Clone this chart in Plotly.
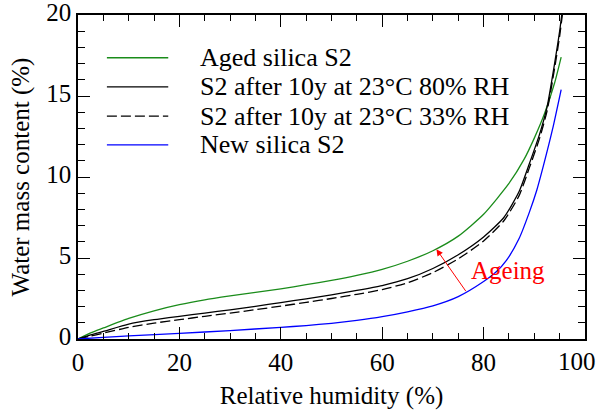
import plotly.graph_objects as go

# ---- data ----
names = ["Aged silica S2", "S2 after 10y at 23°C 80% RH", "S2 after 10y at 23°C 33% RH", "New silica S2"]

aged_x = [0, 2.5, 5, 10, 15, 20, 25, 30, 35, 40, 45, 50, 55, 60, 65, 70, 75, 80, 85, 88, 90, 92, 94, 95.3]
aged_y = [0, 0.38, 0.68, 1.27, 1.74, 2.12, 2.42, 2.66, 2.88, 3.1, 3.35, 3.62, 3.93, 4.3, 4.8, 5.45, 6.35, 7.7, 9.6, 11.1, 12.4, 13.9, 15.8, 17.4]

rh80_x = [0, 2.5, 5, 10, 15, 20, 25, 30, 35, 40, 45, 50, 55, 60, 65, 70, 75, 80, 84, 87, 89, 91, 92.5, 94, 95, 96]
rh80_y = [0, 0.25, 0.47, 0.92, 1.19, 1.4, 1.6, 1.8, 2.02, 2.25, 2.48, 2.73, 3.0, 3.3, 3.72, 4.35, 5.2, 6.3, 7.5, 9.1, 10.8, 12.6, 14.3, 17.0, 19.0, 21.5]

rh33_x = [0, 2.5, 5, 10, 15, 20, 25, 30, 35, 40, 45, 50, 55, 60, 65, 70, 75, 80, 84, 87, 89, 91, 92.5, 94, 95, 96]
rh33_y = [0, 0.18, 0.36, 0.72, 0.98, 1.19, 1.4, 1.6, 1.81, 2.03, 2.26, 2.5, 2.76, 3.05, 3.47, 4.1, 4.95, 6.05, 7.3, 8.85, 10.55, 12.35, 14.05, 16.7, 18.7, 21.2]

new_x = [0, 5, 10, 20, 30, 40, 45, 50, 55, 60, 65, 70, 75, 80, 82.5, 84.5, 87, 89, 90.5, 91.8, 93.6, 95.3]
new_y = [0, 0.1, 0.19, 0.35, 0.52, 0.72, 0.83, 0.97, 1.15, 1.38, 1.68, 2.05, 2.62, 3.55, 4.15, 4.85, 6.2, 7.8, 9.2, 10.7, 12.95, 15.4]

x_tickvals = [0, 20, 40, 60, 80, 100]
x_ticktext = ["0", "20", "40", "60", "80", ""]   # last label drawn right-aligned below
x_last_label = "100"
y_tickvals = [0, 5, 10, 15, 20]

arrow_from = (76.7, 2.86)   # on new silica curve
arrow_to = (70.7, 5.54)     # on aged silica curve
arrow_text = "Ageing"
text_pos = (84.8, 4.2)

x_title = "Relative humidity (%)"
y_title = "Water mass content (%)"

FONT = "Liberation Serif"
colors = ["#1a8c1a", "#000000", "#000000", "#0000ff"]
dashes = ["solid", "solid", "10px,4px", "solid"]
series = [(aged_x, aged_y), (rh80_x, rh80_y), (rh33_x, rh33_y), (new_x, new_y)]

fig = go.Figure()
for (xs, ys), n, c, d in zip(series, names, colors, dashes):
    fig.add_trace(go.Scatter(x=xs, y=ys, name=n, mode="lines",
                             line=dict(color=c, width=1.3, dash=d, shape="spline", smoothing=0.6),
                             showlegend=False))

# manual legend (long line samples like the reference)
leg_y = [0.868, 0.778, 0.688, 0.599]
for n, c, d, yy in zip(names, colors, dashes, leg_y):
    fig.add_shape(type="line", xref="x domain", yref="y domain",
                  x0=0.057, x1=0.178, y0=yy, y1=yy,
                  line=dict(color=c, width=1.3, dash=d))
    fig.add_annotation(xref="x domain", yref="y domain", x=0.237, y=yy,
                       text=n, showarrow=False, xanchor="left", yanchor="middle",
                       font=dict(family=FONT, size=26, color="black"))

fig.add_annotation(x=arrow_to[0], y=arrow_to[1], ax=arrow_from[0], ay=arrow_from[1],
                   xref="x", yref="y", axref="x", ayref="y", text="",
                   showarrow=True, arrowhead=2, arrowsize=1.3, arrowwidth=1, arrowcolor="red")
fig.add_annotation(x=text_pos[0], y=text_pos[1], text=arrow_text, showarrow=False,
                   font=dict(family=FONT, size=25, color="red"))

# last x tick label, kept inside the page like in the reference
fig.add_annotation(xref="x", yref="y domain", x=x_tickvals[-1], y=0, text=x_last_label,
                   showarrow=False, xanchor="right", yanchor="middle", xshift=12.5, yshift=-22,
                   font=dict(family=FONT, size=25, color="black"))

axis_common = dict(showline=True, linecolor="black", linewidth=1.5, mirror="allticks",
                   ticks="inside", ticklen=12, tickwidth=1.2, tickcolor="black",
                   showgrid=False, zeroline=False, automargin=False,
                   ticklabeloverflow="allow",
                   tickfont=dict(family=FONT, size=25, color="black"))

fig.update_xaxes(range=[0, 100], tickmode="array", tickvals=x_tickvals, ticktext=x_ticktext,
                 minor=dict(ticks="inside", ticklen=6, dtick=5, tickcolor="black", tickwidth=1.2, showgrid=False),
                 title=dict(text=x_title, font=dict(family=FONT, size=25, color="black"), standoff=12),
                 **axis_common)
fig.update_yaxes(range=[0, 20], tickmode="array", tickvals=y_tickvals, ticklabelshift=-3,
                 minor=dict(ticks="inside", ticklen=7, dtick=1, tickcolor="black", tickwidth=1.2, showgrid=False),
                 title=dict(text=y_title, font=dict(family=FONT, size=25, color="black"), standoff=10),
                 **axis_common)

fig.update_layout(width=598, height=413, margin=dict(l=78, r=13, t=15, b=74),
                  plot_bgcolor="white", paper_bgcolor="white")

# remove the default page margin so the figure fills the 598x413 window exactly
fig.write_html("out.html", config={"displayModeBar": False},
               post_script="document.body.style.margin='0';")
